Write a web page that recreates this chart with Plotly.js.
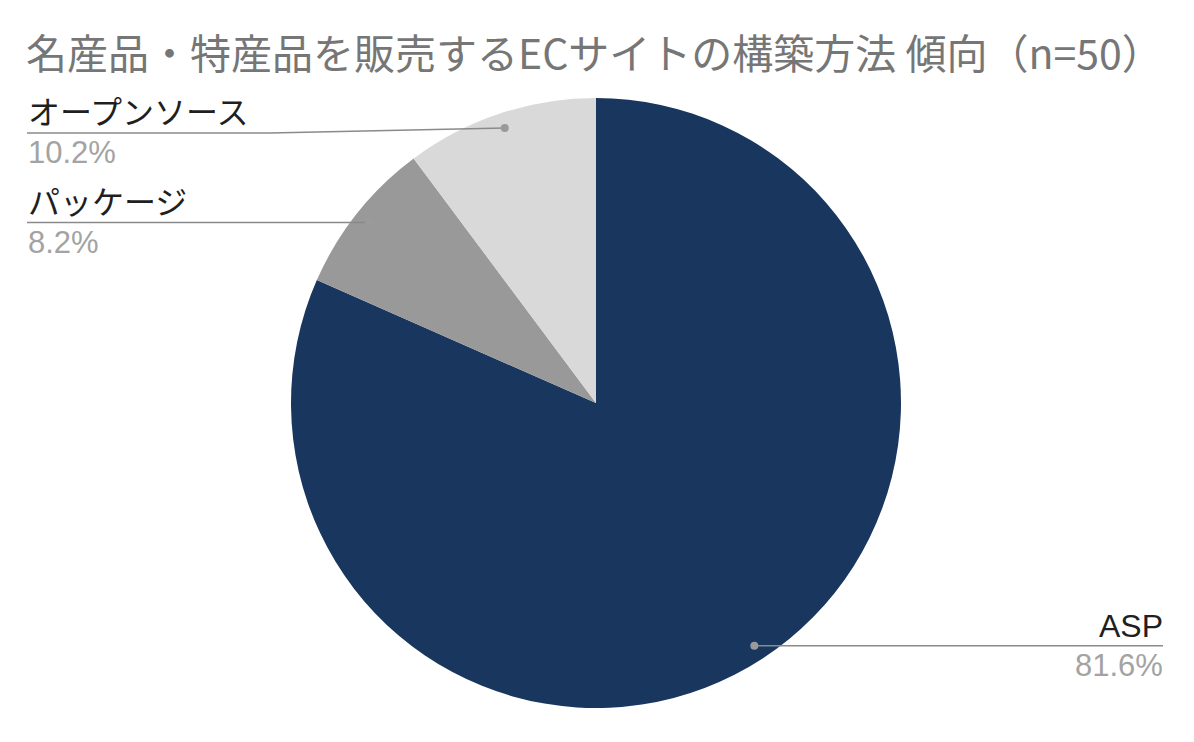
<!DOCTYPE html>
<html><head><meta charset="utf-8">
<script src="https://cdn.plot.ly/plotly-3.0.1.min.js"></script>
<style>html,body{margin:0;padding:0;background:#fff;}</style>
</head><body><div id="chart" style="width:1194px;height:742px;"></div>
<script>
const labels = ["ASP", "パッケージ", "オープンソース"];
const values = [81.6, 8.2, 10.2];
const colors = ["#19365e", "#999999", "#d9d9d9"];
const chartTitle = "名産品・特産品を販売するECサイトの構築方法 傾向（n=50）";

const W = 1194, H = 742;
const cx = 596, cy = 403, R = 305;
const px = x => x / W, py = y => 1 - y / H;
const FONT = "Liberation Sans, Noto Sans CJK JP";

const total = values.reduce((a, b) => a + b, 0);
const shapes = [], annotations = [];
let acc = 0;
values.forEach((v, i) => {
  const mid = (acc + v / 2) / total * 2 * Math.PI;
  acc += v;
  const dx = cx + 0.95 * R * Math.sin(mid);
  const dy = cy - 0.95 * R * Math.cos(mid);
  const right = Math.sin(mid) > 0;
  const endX = right ? 1163 : 27;
  const lineY = dy + (i === 2 ? 5 : 0);
  const elbowX = (!right && i === 2) ? 270 : dx;
  shapes.push({type: "path", xref: "paper", yref: "paper",
    path: `M ${px(dx)} ${py(dy)} L ${px(elbowX)} ${py(lineY)} L ${px(endX)} ${py(lineY)}`,
    line: {color: "#8a8a8a", width: 1.5}});
  shapes.push({type: "circle", xref: "paper", yref: "paper",
    x0: px(dx - 4), x1: px(dx + 4), y0: py(dy + 4), y1: py(dy - 4),
    fillcolor: "#9a9a9a", line: {width: 0}});
  annotations.push({xref: "paper", yref: "paper", x: px(endX + (right ? 2 : -1)), y: py(lineY - 20),
    xanchor: right ? "right" : "left", yanchor: "middle", showarrow: false,
    text: labels[i], font: {family: FONT, size: 32, color: "#1f1f1f"}});
  annotations.push({xref: "paper", yref: "paper", x: px(endX + (right ? 2 : -1)), y: py(lineY + 20),
    xanchor: right ? "right" : "left", yanchor: "middle", showarrow: false,
    text: v.toFixed(1) + "%", font: {family: FONT, size: 31, color: "#a3a3a3"}});
});

annotations.push({xref: "paper", yref: "paper", x: px(24), y: py(51), xanchor: "left", yanchor: "middle",
  showarrow: false, text: chartTitle,
  font: {family: "Noto Sans CJK JP, Liberation Sans", size: 41, color: "#767676"}});

const data = [{
  type: "pie", labels: labels, values: values, sort: false, direction: "clockwise", rotation: 0,
  marker: {colors: colors, line: {width: 0}}, textinfo: "none", hoverinfo: "none",
  domain: {x: [px(cx - R), px(cx + R)], y: [py(cy + R), py(cy - R)]}
}];

Plotly.newPlot("chart", data, {
  width: W, height: H, margin: {l: 0, r: 0, t: 0, b: 0},
  showlegend: false, paper_bgcolor: "#fff",
  shapes: shapes, annotations: annotations
}, {staticPlot: true});
</script></body></html>
